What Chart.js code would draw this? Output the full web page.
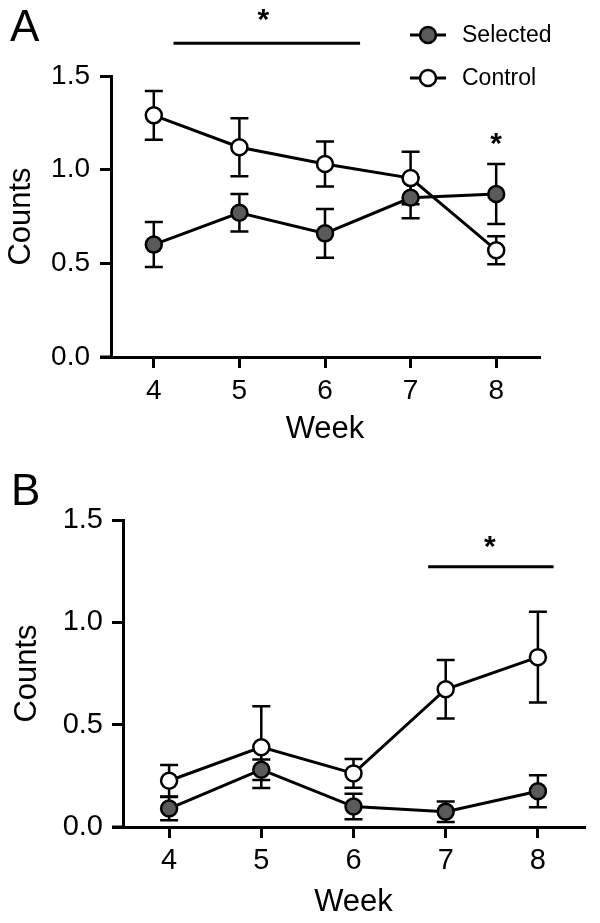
<!DOCTYPE html>
<html>
<head>
<meta charset="utf-8">
<title>Counts by week</title>
<script src="https://cdn.jsdelivr.net/npm/chart.js@4/dist/chart.umd.min.js"></script>
<style>
    html, body { margin: 0; padding: 0; background: #ffffff; }
    canvas { display: block; }
</style>
</head>
<body>
<canvas id="chartA" width="600" height="460"></canvas>
<canvas id="chartB" width="600" height="463"></canvas>
<script>
// Data
const weeks = [4, 5, 6, 7, 8];
const yTicks = [0, 0.5, 1.0, 1.5];
const seriesNames = ["Selected", "Control"];

// Panel A
const selectedA = [0.60, 0.77, 0.66, 0.85, 0.87];
const selectedErrA = [0.12, 0.10, 0.13, 0.11, 0.16];
const controlA = [1.29, 1.12, 1.03, 0.955, 0.57];
const controlErrA = [0.13, 0.155, 0.12, 0.14, 0.075];

// Panel B
const selectedB = [0.09, 0.28, 0.10, 0.075, 0.175];
const selectedErrB = [0.057, 0.05, 0.062, 0.05, 0.078];
const controlB = [0.226, 0.39, 0.262, 0.673, 0.83];
const controlErrB = [0.077, 0.20, 0.07, 0.143, 0.222];

// Significance bars [from week, to week, y] and stars [week, y]
const sigBarsA = [[4.23, 6.41, 1.675]];
const starsA = [[5.28, 1.82], [8, 1.16]];
const sigBarsB = [[6.81, 8.17, 1.271]];
const starsB = [[7.48, 1.386]];

const FONT = "'Liberation Sans', Arial, Helvetica, sans-serif";
const GRAY = "#5a5a5a";

// Draws error bars, significance marks, legend and panel letter
const panelPlugin = {
    id: "panel",
    beforeDatasetsDraw(chart, args, opts) {
        const ctx = chart.ctx;
        const x = chart.scales.x;
        const y = chart.scales.y;
        ctx.save();
        ctx.strokeStyle = "#000";
        ctx.lineWidth = 2.5;
        chart.data.datasets.forEach((ds, i) => {
            const errs = opts.errors[i];
            ds.data.forEach((pt, j) => {
                const px = x.getPixelForValue(pt.x);
                const top = y.getPixelForValue(pt.y + errs[j]);
                const bot = y.getPixelForValue(pt.y - errs[j]);
                ctx.beginPath();
                ctx.moveTo(px, top);
                ctx.lineTo(px, bot);
                ctx.moveTo(px - 9, top);
                ctx.lineTo(px + 9, top);
                ctx.moveTo(px - 9, bot);
                ctx.lineTo(px + 9, bot);
                ctx.stroke();
            });
        });
        ctx.restore();
    },
    afterDraw(chart, args, opts) {
        const ctx = chart.ctx;
        const x = chart.scales.x;
        const y = chart.scales.y;
        const area = chart.chartArea;
        ctx.save();
        ctx.strokeStyle = "#000";
        ctx.fillStyle = "#000";

        // x axis line runs on to the end of the y ticks
        ctx.lineWidth = 3;
        ctx.beginPath();
        ctx.moveTo(area.left - 11, area.bottom);
        ctx.lineTo(area.left, area.bottom);
        ctx.stroke();

        // significance bars
        opts.sigBars.forEach(b => {
            const py = y.getPixelForValue(b[2]);
            ctx.beginPath();
            ctx.moveTo(x.getPixelForValue(b[0]), py);
            ctx.lineTo(x.getPixelForValue(b[1]), py);
            ctx.stroke();
        });

        // stars (glyph sits high in the em box, so shift the baseline down)
        ctx.font = "bold 30px " + FONT;
        ctx.textAlign = "center";
        ctx.textBaseline = "alphabetic";
        opts.stars.forEach(s => {
            ctx.fillText("*", x.getPixelForValue(s[0]), y.getPixelForValue(s[1]) + 13);
        });

        // panel letter
        ctx.font = "44px " + FONT;
        ctx.textAlign = "left";
        ctx.textBaseline = "alphabetic";
        ctx.fillText(opts.letter, opts.letterPos[0], opts.letterPos[1]);

        // legend
        if (opts.legend) {
            chart.data.datasets.forEach((ds, i) => {
                const ly = opts.legend.y[i];
                ctx.lineWidth = 3;
                ctx.beginPath();
                ctx.moveTo(opts.legend.x - 18, ly);
                ctx.lineTo(opts.legend.x + 18, ly);
                ctx.stroke();
                ctx.beginPath();
                ctx.arc(opts.legend.x, ly, 8, 0, Math.PI * 2);
                ctx.fillStyle = ds.pointBackgroundColor;
                ctx.fill();
                ctx.lineWidth = 2.5;
                ctx.stroke();
                ctx.fillStyle = "#000";
                ctx.font = "23px " + FONT;
                ctx.textBaseline = "middle";
                ctx.fillText(ds.label, opts.legend.x + 34, ly + 1);
            });
        }
        ctx.restore();
    }
};

function makeDataset(label, values, fill) {
    return {
        label: label,
        data: values.map((v, i) => ({ x: weeks[i], y: v })),
        borderColor: "#000",
        borderWidth: 3,
        pointRadius: 8,
        pointHoverRadius: 8,
        pointBorderWidth: 2.5,
        pointBackgroundColor: fill,
        pointBorderColor: "#000",
        showLine: true,
        tension: 0,
    };
}

function createPanel(canvasId, sel, ctrl, errs, cfg) {
    const ctx = document.getElementById(canvasId).getContext("2d");
    const axisGrid = {
        display: true,
        drawOnChartArea: false,
        drawTicks: true,
        tickLength: 11,
        lineWidth: 3,
        color: "#000",
    };
    return new Chart(ctx, {
        type: "scatter",
        data: {
            datasets: [
                makeDataset(seriesNames[0], sel, GRAY),
                makeDataset(seriesNames[1], ctrl, "#ffffff"),
            ],
        },
        options: {
            responsive: false,
            animation: false,
            layout: { padding: cfg.padding },
            scales: {
                x: {
                    type: "linear",
                    min: 3.5,
                    max: 8.5,
                    afterBuildTicks: (axis) => { axis.ticks = weeks.map(v => ({ value: v })); },
                    afterFit: (axis) => { axis.height = cfg.xHeight; },
                    grid: axisGrid,
                    border: { display: true, color: "#000", width: 3 },
                    ticks: {
                        color: "#000",
                        font: { family: FONT, size: cfg.tickSize },
                        padding: cfg.xTickPad,
                        callback: (v) => String(v),
                    },
                    title: {
                        display: true,
                        text: "Week",
                        color: "#000",
                        font: { family: FONT, size: 31 },
                        padding: { top: 0, bottom: cfg.xTitlePad },
                    },
                },
                y: {
                    min: 0,
                    max: 1.5,
                    afterBuildTicks: (axis) => { axis.ticks = yTicks.map(v => ({ value: v })); },
                    afterFit: (axis) => { axis.width = cfg.yWidth; },
                    grid: axisGrid,
                    border: { display: true, color: "#000", width: 3 },
                    ticks: {
                        color: "#000",
                        font: { family: FONT, size: cfg.tickSize },
                        padding: cfg.yTickPad,
                        callback: (v) => v.toFixed(1),
                    },
                    title: {
                        display: true,
                        text: "Counts",
                        color: "#000",
                        font: { family: FONT, size: 31 },
                        padding: { top: cfg.yTitlePad, bottom: 0 },
                    },
                },
            },
            plugins: {
                legend: { display: false },
                tooltip: { enabled: false },
                panel: {
                    errors: errs,
                    sigBars: cfg.sigBars,
                    stars: cfg.stars,
                    letter: cfg.letter,
                    letterPos: cfg.letterPos,
                    legend: cfg.legend,
                },
            },
        },
        plugins: [panelPlugin],
    });
}

createPanel("chartA", selectedA, controlA, [selectedErrA, controlErrA], {
    padding: { left: 0, right: 61, top: 76, bottom: 0 },
    xHeight: 103,
    yWidth: 111,
    tickSize: 28,
    xTickPad: 6,
    yTickPad: 10,
    xTitlePad: 12,
    yTitlePad: 3,
    sigBars: sigBarsA,
    stars: starsA,
    letter: "A",
    letterPos: [10, 41],
    legend: { x: 428, y: [35, 78] },
});

createPanel("chartB", selectedB, controlB, [selectedErrB, controlErrB], {
    padding: { left: 0, right: 16, top: 60, bottom: 0 },
    xHeight: 96,
    yWidth: 123,
    tickSize: 29,
    xTickPad: 6,
    yTickPad: 9,
    xTitlePad: 2,
    yTitlePad: 9,
    sigBars: sigBarsB,
    stars: starsB,
    letter: "B",
    letterPos: [11, 45],
    legend: null,
});
</script>
</body>
</html>
